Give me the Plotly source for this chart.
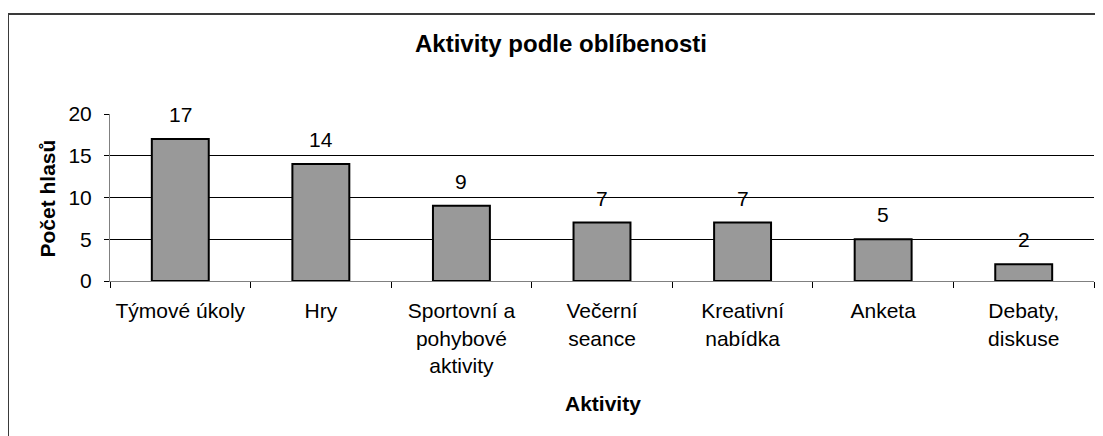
import plotly.graph_objects as go

categories = ["Týmové úkoly", "Hry", "Sportovní a<br>pohybové<br>aktivity", "Večerní<br>seance",
              "Kreativní<br>nabídka", "Anketa", "Debaty,<br>diskuse"]
votes = [17, 14, 9, 7, 7, 5, 2]
y_ticks = [0, 5, 10, 15, 20]
title_text = "Aktivity podle oblíbenosti"
x_title = "Aktivity"
y_title = "Počet hlasů"

FONT = "Arial, Liberation Sans, sans-serif"
OFF = 8  # browser body margin
W, H = 1103 - OFF, 436 - OFF
# target pixel positions in the window
PL, PR, PT, PB = 110, 1094, 114, 281
L, T = PL - OFF, PT - OFF
R = W - (PR - OFF)
B = H - (PB - OFF)

fig = go.Figure()
fig.add_trace(go.Bar(
    x=categories, y=votes,
    marker=dict(color="#999999", line=dict(color="#000000", width=2)),
    hoverinfo="x+y",
))

pw = PR - PL
ph = PB - PT
def px_x(p):
    return (p - PL) / pw
def px_y(p):
    return (PB - p) / ph

annotations = []
for c, v in zip(categories, votes):
    annotations.append(dict(x=c, y=v, xref="x", yref="y", text=str(v), showarrow=False,
                            yanchor="bottom", yshift=11,
                            font=dict(family=FONT, size=21, color="#000")))

annotations.append(dict(x=px_x(561), y=px_y(43.5), xref="paper", yref="paper", text="<b>%s</b>" % title_text,
                        showarrow=False, xanchor="center", yanchor="middle",
                        font=dict(family=FONT, size=24, color="#000")))
annotations.append(dict(x=px_x(602.5), y=px_y(403), xref="paper", yref="paper", text="<b>%s</b>" % x_title,
                        showarrow=False, xanchor="center", yanchor="middle",
                        font=dict(family=FONT, size=21, color="#000")))
annotations.append(dict(x=px_x(47), y=px_y(198.5), xref="paper", yref="paper", text="<b>%s</b>" % y_title,
                        showarrow=False, xanchor="center", yanchor="middle", textangle=-90,
                        font=dict(family=FONT, size=21, color="#000")))

shapes = [
    dict(type="line", xref="paper", yref="paper", x0=px_x(8), x1=1.2, y0=px_y(14), y1=px_y(14),
         line=dict(color="#3a3a3a", width=2), layer="above"),
    dict(type="line", xref="paper", yref="paper", x0=px_x(8), x1=px_x(8), y0=px_y(14), y1=-1.5,
         line=dict(color="#3a3a3a", width=2), layer="above"),
]

fig.update_layout(
    width=W, height=H,
    margin=dict(l=L, r=R, t=T, b=B, autoexpand=False),
    paper_bgcolor="white", plot_bgcolor="white",
    bargap=0.595,
    showlegend=False,
    annotations=annotations,
    shapes=shapes,
    font=dict(family=FONT, size=21, color="#000"),
)
fig.update_xaxes(
    showline=True, linecolor="#808080", linewidth=1,
    ticks="outside", tickson="boundaries", ticklen=6, tickcolor="#000", tickwidth=1,
    showgrid=False, ticklabelstandoff=11,
    tickfont=dict(family=FONT, size=21, color="#000"),
)
fig.update_yaxes(
    range=[0, 20], tickvals=y_ticks,
    showline=True, linecolor="#808080", linewidth=1,
    ticks="outside", ticklen=5, tickcolor="#000", tickwidth=1,
    showgrid=True, gridcolor="#000", gridwidth=1, zeroline=False,
    ticklabelstandoff=8,
    tickfont=dict(family=FONT, size=21, color="#000"),
)

fig.write_html("out.html")
